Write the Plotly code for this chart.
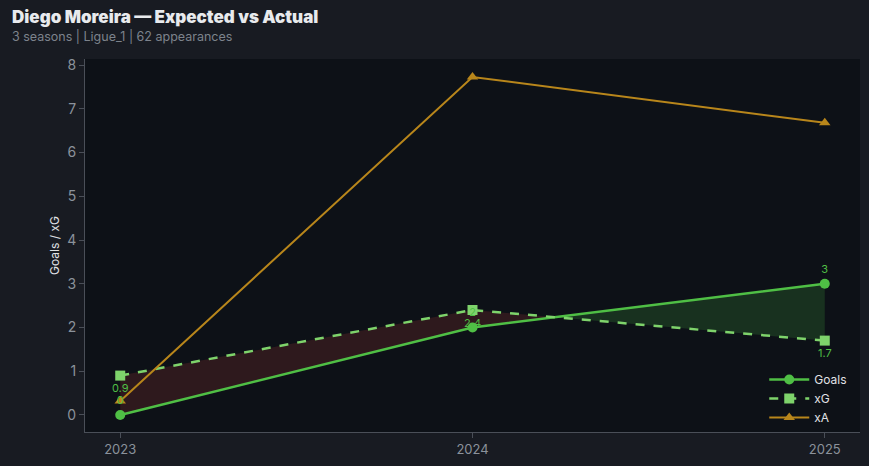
import plotly.graph_objects as go

seasons = [2023, 2024, 2025]
season_labels = ["2023", "2024", "2025"]
goals = [0, 2, 3]
xg = [0.9, 2.4, 1.7]
xa = [0.32, 7.73, 6.68]

BG = "#181b22"
PLOT_BG = "#0d1117"
GREEN = "#4fbf45"
LIGHT_GREEN = "#7ed36b"
GOLD = "#b8861b"
AXIS = "#4a4f58"
TICK = "#8b929b"


def fill_segments(x, a, b):
    """Split the area between a and b into polygons where sign(a-b) is constant."""
    polys = []
    cur_x, cur_top, cur_bot = [x[0]], [a[0]], [b[0]]
    for i in range(len(x) - 1):
        d0 = a[i] - b[i]
        d1 = a[i + 1] - b[i + 1]
        if d0 * d1 < 0:
            t = d0 / (d0 - d1)
            cx = x[i] + t * (x[i + 1] - x[i])
            cy = a[i] + t * (a[i + 1] - a[i])
            cur_x.append(cx)
            cur_top.append(cy)
            cur_bot.append(cy)
            polys.append((cur_x, cur_top, cur_bot, d0 >= 0))
            cur_x, cur_top, cur_bot = [cx], [cy], [cy]
        cur_x.append(x[i + 1])
        cur_top.append(a[i + 1])
        cur_bot.append(b[i + 1])
    polys.append((cur_x, cur_top, cur_bot, (a[-1] - b[-1]) >= 0))
    return polys


fig = go.Figure()

for px, top, bot, over in fill_segments(seasons, goals, xg):
    fig.add_trace(go.Scatter(
        x=px + px[::-1],
        y=top + bot[::-1],
        fill="toself",
        fillcolor="rgba(46,110,46,0.35)" if over else "rgba(110,40,40,0.35)",
        line=dict(width=0),
        mode="lines",
        hoverinfo="skip",
        showlegend=False,
    ))

fig.add_trace(go.Scatter(
    x=seasons, y=goals, name="Goals",
    mode="lines+markers",
    line=dict(color=GREEN, width=2.5),
    marker=dict(symbol="circle", size=10, color=GREEN),
))

fig.add_trace(go.Scatter(
    x=seasons, y=xg, name="xG",
    mode="lines+markers",
    line=dict(color=LIGHT_GREEN, width=2.5, dash="dash"),
    marker=dict(symbol="square", size=10, color=LIGHT_GREEN),
))

fig.add_trace(go.Scatter(
    x=seasons, y=xa, name="xA",
    mode="lines+markers",
    line=dict(color=GOLD, width=2),
    marker=dict(symbol="triangle-up", size=10, color=GOLD),
))

# value labels drawn last so they sit above every marker
fig.add_trace(go.Scatter(
    x=seasons, y=goals, mode="markers+text",
    marker=dict(size=12, opacity=0),
    text=[str(v) for v in goals], textposition="top center",
    textfont=dict(color=GREEN, size=11),
    showlegend=False, hoverinfo="skip",
))
fig.add_trace(go.Scatter(
    x=seasons, y=xg, mode="markers+text",
    marker=dict(size=12, opacity=0),
    text=[str(v) for v in xg], textposition="bottom center",
    textfont=dict(color=GREEN, size=11),
    showlegend=False, hoverinfo="skip",
))

fig.add_annotation(
    text="Diego Moreira — Expected vs Actual",
    xref="paper", yref="paper", x=-0.097, y=1.112,
    xanchor="left", yanchor="middle", showarrow=False,
    font=dict(family="Inter, sans-serif", size=17, color="#e8eaed", weight=900),
)
fig.add_annotation(
    text="3 seasons | Ligue_1 | 62 appearances",
    xref="paper", yref="paper", x=-0.097, y=1.059,
    xanchor="left", yanchor="middle", showarrow=False,
    font=dict(family="Inter, sans-serif", size=12.5, color="#7d838c"),
)

fig.update_layout(
    width=869, height=466,
    paper_bgcolor=BG,
    plot_bgcolor=PLOT_BG,
    font=dict(family="Inter, sans-serif", color=TICK, size=13),
    margin=dict(l=85, r=9, t=59, b=32),
    xaxis=dict(
        range=[2022.9, 2025.1],
        tickvals=seasons, ticktext=season_labels,
        showgrid=False, zeroline=False,
        showline=True, linecolor=AXIS, linewidth=1,
        ticks="outside", tickcolor=AXIS, ticklen=5,
        tickfont=dict(color=TICK, size=13),
    ),
    yaxis=dict(
        range=[-0.39, 8.14],
        dtick=1,
        showgrid=False, zeroline=False,
        showline=True, linecolor=AXIS, linewidth=1,
        ticks="outside", tickcolor=AXIS, ticklen=5,
        tickfont=dict(color=TICK, size=14),
        title=dict(text="Goals / xG", font=dict(color="#e0e2e6", size=12), standoff=4),
    ),
    legend=dict(
        x=0.99, y=0.0, xanchor="right", yanchor="bottom",
        bgcolor="rgba(0,0,0,0)",
        font=dict(color="#e0e2e6", size=12),
        itemwidth=40,
        tracegroupgap=0,
    ),
    showlegend=True,
)

fig.write_html(
    "out.html",
    config={"displayModeBar": False},
    post_script="document.body.style.margin='0';document.body.style.background='#181b22';",
)
